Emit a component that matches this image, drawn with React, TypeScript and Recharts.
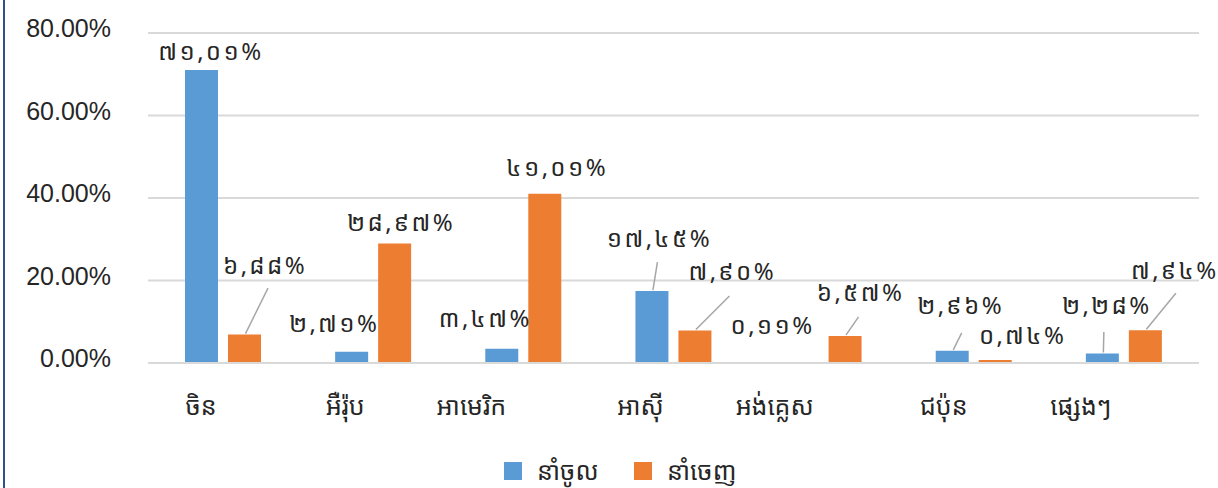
import React from 'react';
import { BarChart, Bar, XAxis, YAxis, CartesianGrid, LabelList, Legend } from 'recharts';

const CATEGORIES = ['ចិន', 'អឺរ៉ុប', 'អាមេរិក', 'អាស៊ី', 'អង់គ្លេស', 'ជប៉ុន', 'ផ្សេងៗ'];
const IMPORTS = [71.01, 2.71, 3.47, 17.45, 0.11, 2.96, 2.28];
const EXPORTS = [6.88, 28.97, 41.01, 7.9, 6.57, 0.74, 7.94];
const Y_TICKS = [0, 20, 40, 60, 80];
const SERIES_NAMES = ['នាំចូល', 'នាំចេញ'];

const BLUE = '#5B9BD5';
const ORANGE = '#ED7D31';
const KHMER_FONT = "'Noto Sans Khmer', 'Khmer OS', 'Khmer OS System', 'Noto Sans', sans-serif";
const LATIN_FONT = "'Liberation Sans', Arial, sans-serif";

// label placement relative to bar top-center: [dx, dy, lineEndDx, lineEndDy] (line optional)
const IMPORT_LABEL_POS: number[][] = [
  [8, -20],
  [-19, -29],
  [-18, -31],
  [6, -54, 5.5, -29],
  [-31, -38],
  [7, -46, 9.5, -18],
  [3, -49, 1.5, -21.5],
];
const EXPORT_LABEL_POS: number[][] = [
  [19, -70, 23.5, -46.5],
  [5, -22],
  [11, -27],
  [36, -60, 34.5, -34.5],
  [14, -44, 13.5, -19],
  [26, -25],
  [28, -61, 30.5, -37],
];
// horizontal shift of category label centres
const TICK_DX = [-22, -28, -52, -33, -49, -30, -43];

const data = CATEGORIES.map((c, i) => ({ name: c, imp: IMPORTS[i], exp: EXPORTS[i] }));

const KHMER_DIGITS = '០១២៣៤៥៦៧៨៩';
const toKhmer = (v: number) =>
  v
    .toFixed(2)
    .replace('.', ',')
    .replace(/[0-9]/g, (d) => KHMER_DIGITS[Number(d)]) + '%';

const makeLabel = (pos: number[][]) => (props: any) => {
  const { index, value } = props;
  const x = props.x ?? props.viewBox?.x;
  const y = props.y ?? props.viewBox?.y;
  const width = props.width ?? props.viewBox?.width;
  const p = pos[index];
  const cx = x + width / 2;
  return (
    <g key={`lbl-${index}`}>
      {p.length > 2 && (
        <line x1={cx + 1} y1={y - 1} x2={cx + p[2]} y2={y + p[3]} stroke="#A6A6A6" strokeWidth={1.5} />
      )}
      <text
        x={cx + p[0] + 1.5}
        y={y + p[1]}
        textAnchor="middle"
        dominantBaseline="central"
        fontFamily={KHMER_FONT}
        fontSize={24}
        letterSpacing={2.5}
        fill="#262626"
      >
        {toKhmer(value)}
      </text>
    </g>
  );
};

const YTick = (props: any) => {
  const { y, payload } = props;
  return (
    <text x={111} y={y - 5} textAnchor="end" dominantBaseline="central" fontFamily={LATIN_FONT} fontSize={25} fill="#262626">
      {`${Number(payload.value).toFixed(2)}%`}
    </text>
  );
};

const XTick = (props: any) => {
  const { x, payload, index } = props;
  return (
    <text x={x + TICK_DX[index]} y={415} textAnchor="middle" fontFamily={KHMER_FONT} fontSize={25} fill="#262626">
      {payload.value}
    </text>
  );
};

const LegendContent = () => (
  <div style={{ position: 'relative', width: 1218, height: 36 }}>
    <div style={{ position: 'absolute', left: 504, top: 10, width: 18, height: 18, background: BLUE }} />
    <div style={{ position: 'absolute', left: 537, top: 0, fontFamily: KHMER_FONT, fontSize: 25, lineHeight: '36px', color: '#262626', whiteSpace: 'nowrap' }}>
      {SERIES_NAMES[0]}
    </div>
    <div style={{ position: 'absolute', left: 634, top: 10, width: 18, height: 18, background: ORANGE }} />
    <div style={{ position: 'absolute', left: 667, top: 0, fontFamily: KHMER_FONT, fontSize: 25, lineHeight: '36px', color: '#262626', whiteSpace: 'nowrap' }}>
      {SERIES_NAMES[1]}
    </div>
  </div>
);

export default function App() {
  return (
    <div style={{ position: 'absolute', left: 0, top: 0, width: 1218, height: 488, background: '#fff' }}>
      <div style={{ position: 'absolute', left: 3, top: 0, width: 2, height: 488, background: '#2F4F8F' }} />
      <BarChart
        width={1218}
        height={488}
        data={data}
        margin={{ top: 33, right: 19, left: 0, bottom: 0 }}
        barSize={33}
        barGap={10}
      >
        <CartesianGrid vertical={false} stroke="#D9D9D9" strokeWidth={2} />
        <XAxis
          dataKey="name"
          height={89}
          axisLine={{ stroke: '#D9D9D9', strokeWidth: 2 }}
          tickLine={false}
          tick={<XTick />}
          interval={0}
        />
        <YAxis
          width={148}
          domain={[0, 80]}
          ticks={Y_TICKS}
          axisLine={false}
          tickLine={false}
          tick={<YTick />}
          interval={0}
        />
        <Legend verticalAlign="bottom" height={36} content={<LegendContent />} wrapperStyle={{ left: 0, width: 1218 }} />
        <Bar dataKey="imp" name={SERIES_NAMES[0]} fill={BLUE} isAnimationActive={false}>
          <LabelList dataKey="imp" content={makeLabel(IMPORT_LABEL_POS)} />
        </Bar>
        <Bar dataKey="exp" name={SERIES_NAMES[1]} fill={ORANGE} isAnimationActive={false}>
          <LabelList dataKey="exp" content={makeLabel(EXPORT_LABEL_POS)} />
        </Bar>
      </BarChart>
    </div>
  );
}
